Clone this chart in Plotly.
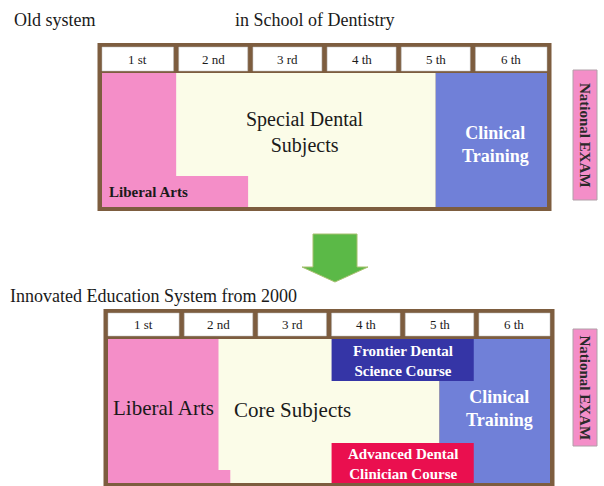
import plotly.graph_objects as go

# ---------------- data ----------------
year_labels = ["1 st", "2 nd", "3 rd", "4 th", "5 th", "6 th"]
n_years = len(year_labels)

# old system (years)
old_liberal_upper_end = 1.0
old_liberal_lower_end = 1.97
old_clinical_start = 4.5

# new system (years)
new_liberal_upper_end = 1.5
new_liberal_lower_end = 1.66
new_clinical_start = 4.5
frontier_span = [3.0, 5.0]
advanced_span = [3.0, 5.0]

# ---------------- styling / layout constants ----------------
W, H = 604, 486
FONT = "Liberation Serif, Times New Roman, serif"
FRAME = "#7d5d3f"
PINK = "#f48ec8"
CREAM = "#fbfce8"
BLUE = "#7080d8"
DARKBLUE = "#3535a6"
RED = "#ea0f4f"
GREEN = "#5bb947"
GAP = 0.035

panels = {
    "top": dict(xref="x", x0px=102, x6px=547, frame_top=43, head=(47, 71), body=(73, 207), frame_bot=211),
    "bot": dict(xref="x2", x0px=108, x6px=550, frame_top=309, head=(313, 336), body=(339, 483), frame_bot=488),
}

fig = go.Figure()
shapes = []
annotations = []


def rect(xref, x0, x1, y0, y1, color, line_color=None, lw=0):
    shapes.append(dict(type="rect", xref=xref, yref="y", x0=x0, x1=x1, y0=y0, y1=y1,
                       fillcolor=color, line=dict(color=line_color or color, width=lw), layer="above"))


def text(xref, x, y, s, size, color="#1a1a1a", bold=False, xanchor="center", angle=0):
    if bold:
        s = "<b>" + s + "</b>"
    annotations.append(dict(xref=xref, yref="y", x=x, y=y, text=s, showarrow=False,
                            xanchor=xanchor, yanchor="middle", textangle=angle,
                            font=dict(family=FONT, size=size, color=color)))


for key, p in panels.items():
    xr = p["xref"]
    pxy = (p["x6px"] - p["x0px"]) / n_years
    ext = 4.5 / pxy
    rect(xr, -ext, n_years + ext, p["frame_top"], p["frame_bot"], FRAME)
    for i, lab in enumerate(year_labels):
        c0 = 0 if i == 0 else i + GAP
        c1 = min(n_years, i + 1 - GAP) if i < n_years - 1 else n_years
        rect(xr, c0, c1, p["head"][0], p["head"][1], "white", "#b8b8b8", 0.5)
        text(xr, (c0 + c1) / 2, sum(p["head"]) / 2, lab, 13)

b0, b1 = panels["top"]["body"]
rect("x", 0, old_clinical_start, b0, b1, CREAM)
rect("x", 0, old_liberal_upper_end, b0, b1, PINK)
rect("x", 0, old_liberal_lower_end, 176, b1, PINK)
rect("x", old_clinical_start, n_years, b0, b1, BLUE)
text("x", 2.74, 132, "Special Dental<br>Subjects", 20)
text("x", 5.3, 144, "Clinical<br>Training", 18, color="white", bold=True)
text("x", 0.07, 192, "Liberal Arts", 15, bold=True, xanchor="left")

b0, b1 = panels["bot"]["body"]
rect("x2", 0, new_clinical_start, b0, b1, CREAM)
rect("x2", 0, new_liberal_upper_end, b0, b1, PINK)
rect("x2", 0, new_liberal_lower_end, 470, b1, PINK)
rect("x2", new_clinical_start, n_years, b0, b1, BLUE)
rect("x2", frontier_span[0] + GAP, frontier_span[1] - GAP, b0, 381, DARKBLUE)
rect("x2", advanced_span[0] + GAP, advanced_span[1] - GAP, 443, b1, RED)
text("x2", 0.75, 408, "Liberal Arts", 21)
text("x2", 2.5, 410, "Core Subjects", 21)
text("x2", 5.32, 408, "Clinical<br>Training", 18, color="white", bold=True)
text("x2", sum(frontier_span) / 2, 361, "Frontier Dental<br>Science Course", 15, color="white", bold=True)
text("x2", sum(advanced_span) / 2, 464, "Advanced Dental<br>Clinician Course", 15, color="white", bold=True)

for (y0, y1) in [(70, 200), (329, 446)]:
    shapes.append(dict(type="rect", xref="paper", yref="y", x0=573 / W, x1=597 / W, y0=y0, y1=y1,
                       fillcolor=PINK, line=dict(color="#b0a0a8", width=1), layer="above"))
    annotations.append(dict(xref="paper", yref="y", x=585 / W, y=(y0 + y1) / 2, text="<b>National EXAM</b>",
                            showarrow=False, textangle=90, xanchor="center", yanchor="middle",
                            font=dict(family=FONT, size=15, color="#2a2a2a")))

pts = [(313, 234), (357, 234), (357, 267), (368, 267), (335, 282), (302, 267), (313, 267)]
path = "M " + " L ".join(f"{x / W:.4f},{y}" for x, y in pts) + " Z"
shapes.append(dict(type="path", xref="paper", yref="y", path=path, fillcolor=GREEN,
                   line=dict(color="#a8c070", width=1), layer="above"))

for s, x, y in [("Old system", 12, 20), ("in School of Dentistry", 233, 20),
                ("Innovated Education System from 2000", 8, 296)]:
    annotations.append(dict(xref="paper", yref="y", x=x / W, y=y, text=s, showarrow=False,
                            xanchor="left", yanchor="middle",
                            font=dict(family=FONT, size=18, color="#1a1a1a")))

pt, pb = panels["top"], panels["bot"]
pxt = (pt["x6px"] - pt["x0px"]) / n_years
pxb = (pb["x6px"] - pb["x0px"]) / n_years
fig.add_trace(go.Scatter(x=[0], y=[0], xaxis="x", yaxis="y", mode="markers", opacity=0, hoverinfo="skip"))
fig.add_trace(go.Scatter(x=[0], y=[0], xaxis="x2", yaxis="y", mode="markers", opacity=0, hoverinfo="skip"))

fig.update_layout(
    width=W, height=H, margin=dict(l=0, r=0, t=0, b=0),
    paper_bgcolor="white", plot_bgcolor="white", showlegend=False,
    xaxis=dict(range=[-pt["x0px"] / pxt, (W - pt["x0px"]) / pxt], visible=False, domain=[0, 1], fixedrange=True),
    xaxis2=dict(range=[-pb["x0px"] / pxb, (W - pb["x0px"]) / pxb], visible=False, domain=[0, 1],
                overlaying="x", anchor="y", fixedrange=True),
    yaxis=dict(range=[H, 0], visible=False, domain=[0, 1], fixedrange=True),
    shapes=shapes, annotations=annotations,
)

fig.write_html("out.html", config={"displayModeBar": False},
               post_script="document.body.style.margin='0';")
